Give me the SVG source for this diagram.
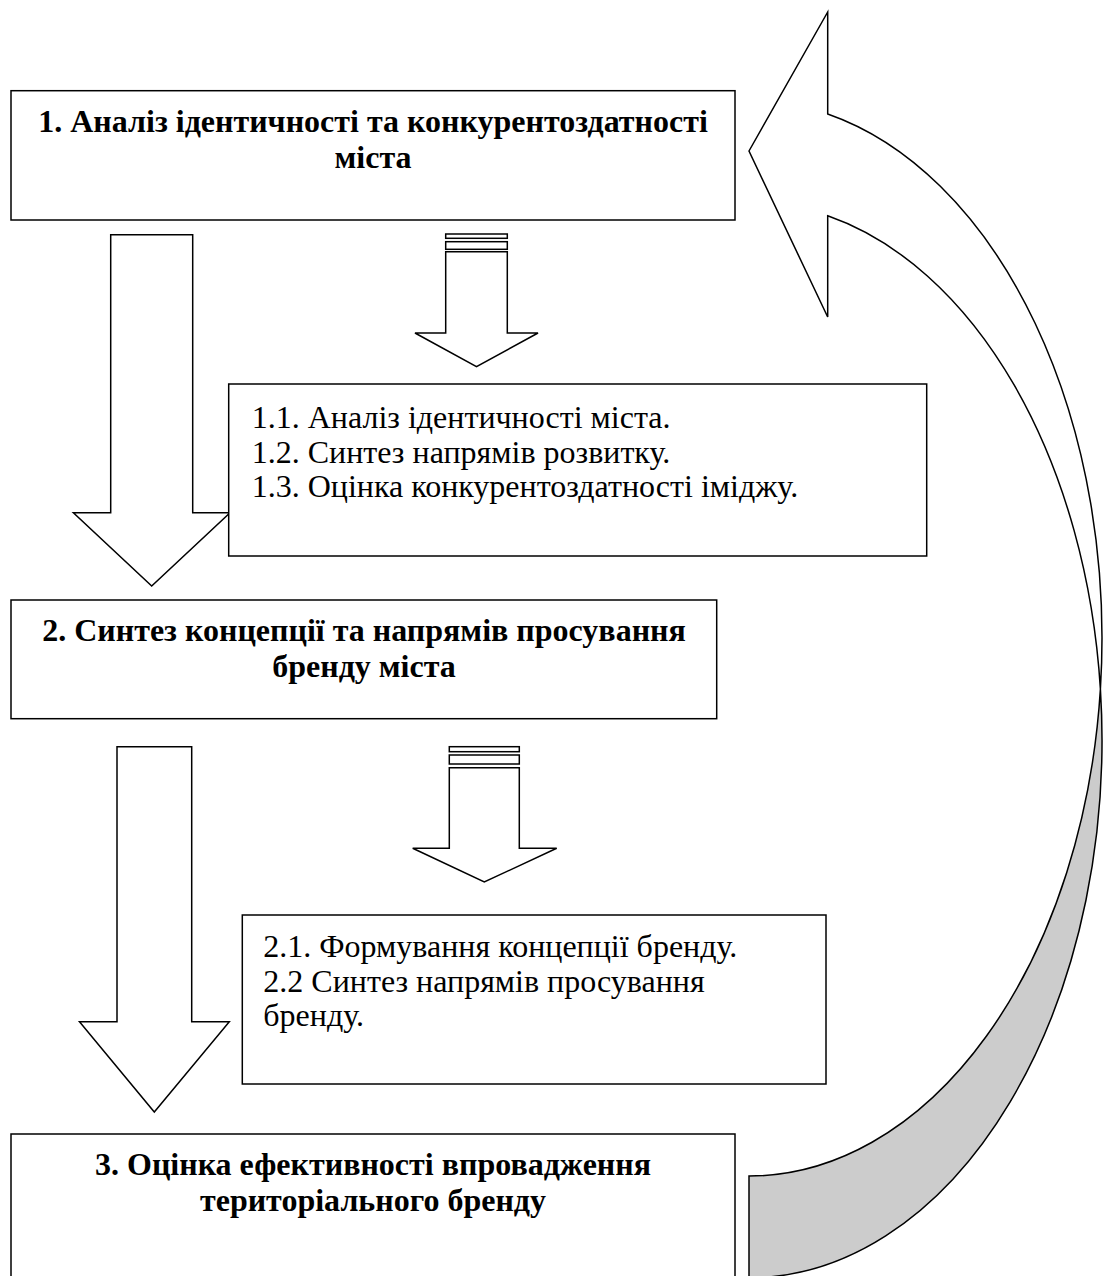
<svg xmlns="http://www.w3.org/2000/svg" width="1103" height="1276" viewBox="0 0 1103 1276">
<style>
.box{fill:#ffffff;stroke:#000000;stroke-width:1.5}
.arr{fill:#ffffff;stroke:#000000;stroke-width:1.5;stroke-linejoin:miter}
.back{fill:#cccccc;stroke:#000000;stroke-width:1.5}
.h{font-family:"Liberation Serif","Times New Roman",serif;font-weight:bold;font-size:32px;fill:#000;text-anchor:middle}
.t{font-family:"Liberation Serif","Times New Roman",serif;font-size:32px;fill:#000}
</style>
<rect width="1103" height="1276" fill="#ffffff"/>
<g id="connectors">
  <path class="arr" d="M110.7,234.7 H192.7 V512.7 H230 L151.7,586 L73.4,512.7 H110.7 Z"/>
  <path class="arr" d="M117,746.7 H191.7 V1021.7 H229.3 L154.3,1112 L79.5,1021.7 H117 Z"/>
  <g id="striped1">
    <rect class="arr" x="445.7" y="234" width="61.6" height="4.3"/>
    <rect class="arr" x="445.7" y="241.7" width="61.6" height="7.6"/>
    <path class="arr" d="M445.7,251.7 H507.3 V333 H538 L476.5,366.7 L415,333 H445.7 Z"/>
  </g>
  <g id="striped2">
    <rect class="arr" x="449.3" y="746.7" width="70" height="5"/>
    <rect class="arr" x="449.3" y="755" width="70" height="9"/>
    <path class="arr" d="M449.3,767.7 H519.3 V848.3 H556.7 L484.3,882 L412.7,848.3 H449.3 Z"/>
  </g>
  <g id="curved">
    <path class="back" d="M1100.4,689 A353,537.8 0 0 1 749,1277.8 L749,1176 A353,537.8 0 0 0 1100.4,689 Z"/>
    <path class="arr" d="M749,151 L827.7,12 L827.7,114 A353,537.8 0 0 1 1100.4,689 A353,537.8 0 0 0 827.7,215.8 L827.7,317 Z"/>
  </g>
</g>
<g id="node-1">
  <rect class="box" x="11" y="90.7" width="724" height="129.3"/>
  <text class="h" x="373" y="131.5">1. Аналіз ідентичності та конкурентоздатності</text>
  <text class="h" x="373" y="167.5">міста</text>
</g>
<g id="node-1-sub">
  <rect class="box" x="228.7" y="384" width="698" height="172"/>
  <text class="t" x="251.7" y="428">1.1. Аналіз ідентичності міста.</text>
  <text class="t" x="251.7" y="462.5">1.2. Синтез напрямів розвитку.</text>
  <text class="t" x="251.7" y="497">1.3. Оцінка конкурентоздатності іміджу.</text>
</g>
<g id="node-2">
  <rect class="box" x="11" y="600" width="705.7" height="118.7"/>
  <text class="h" x="364" y="641">2. Синтез концепції та напрямів просування</text>
  <text class="h" x="364" y="677">бренду міста</text>
</g>
<g id="node-2-sub">
  <rect class="box" x="242.3" y="915" width="583.7" height="169"/>
  <text class="t" x="263.3" y="957">2.1. Формування концепції бренду.</text>
  <text class="t" x="263.3" y="991.5">2.2 Синтез напрямів просування</text>
  <text class="t" x="263.3" y="1026">бренду.</text>
</g>
<g id="node-3">
  <rect class="box" x="11" y="1134" width="724" height="160"/>
  <text class="h" x="373" y="1175">3. Оцінка ефективності впровадження</text>
  <text class="h" x="373" y="1211">територіального бренду</text>
</g>
</svg>
